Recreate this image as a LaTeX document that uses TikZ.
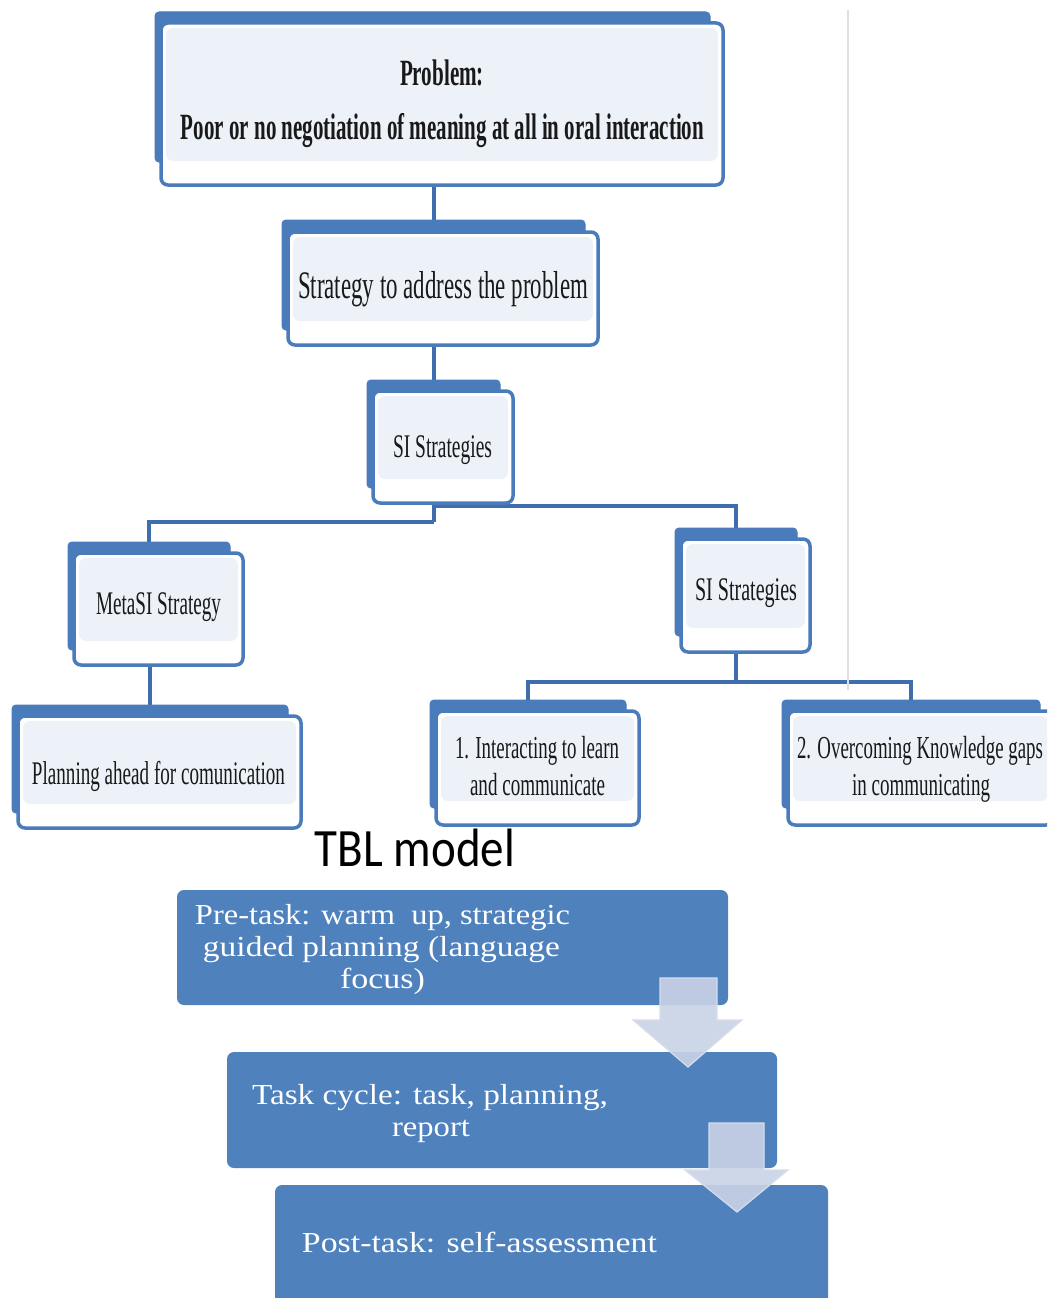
\documentclass[tikz,border=0pt]{standalone}
\usepackage{fontspec}
\usepackage{graphicx}
\setmainfont{Liberation Serif}
\newfontfamily\tblfont{Carlito}
\usetikzlibrary{backgrounds}
\definecolor{treeblue}{HTML}{4A7BBA}
\definecolor{connblue}{HTML}{3E6EAE}
\definecolor{lightfill}{HTML}{EDF1F8}
\definecolor{stepblue}{HTML}{4F81BD}
\definecolor{arrowfill}{HTML}{C9D3E6}
\definecolor{arrowedge}{HTML}{D6DDEC}
\newcommand\fitw[2]{\resizebox{#1pt}{\height}{#2}}
\tikzset{
  backbox/.style={fill=treeblue, draw=treeblue, line width=1pt, rounded corners=4pt, inner sep=0pt, outer sep=0pt, anchor=north west},
  frontbox/.style={fill=white, draw=treeblue, line width=3.5pt, rounded corners=7pt, inner sep=0pt, outer sep=0pt, anchor=north west,
    path picture={\fill[lightfill] ([xshift=5pt,yshift=-5pt]path picture bounding box.north west) rectangle ([xshift=-5pt,yshift=24pt]path picture bounding box.south east);}},
  conn/.style={draw=connblue, line width=4pt},
  txt/.style={inner sep=0pt, outer sep=0pt, anchor=base, text=black!90},
  stepbox/.style={fill=stepblue, rounded corners=7pt, inner sep=0pt, outer sep=0pt, anchor=north west},
  steptxt/.style={inner sep=0pt, outer sep=0pt, anchor=base, text=white, font=\fontsize{29}{32}\selectfont},
  flowarrow/.style={fill=arrowfill, fill opacity=0.9, draw=arrowedge, line width=1.2pt},
}
\begin{document}
\begin{tikzpicture}[x=1pt,y=-1pt]
\useasboundingbox (0,0) rectangle (1047,1298);
\clip (0,0) rectangle (1047,1298);

% thin page line
\draw[gray!25, line width=1.5pt] (848,10) -- (848,690);

% ---- tree boxes ----
\node[backbox, minimum width=555, minimum height=150] (probB) at (155,12) {};
\node[frontbox, minimum width=562, minimum height=162] (prob) at (161,23) {};
\node[backbox, minimum width=303, minimum height=110] (strB) at (282,220) {};
\node[frontbox, minimum width=310, minimum height=113] (str) at (288,232) {};
\node[backbox, minimum width=133, minimum height=108] (siB) at (367,380) {};
\node[frontbox, minimum width=140, minimum height=112] (si) at (373,391) {};
\node[backbox, minimum width=162, minimum height=108] (metaB) at (68,542) {};
\node[frontbox, minimum width=169, minimum height=112] (meta) at (74,553) {};
\node[backbox, minimum width=122, minimum height=108] (siRB) at (675,528) {};
\node[frontbox, minimum width=129, minimum height=113] (siR) at (681,539) {};
\node[backbox, minimum width=276, minimum height=108] (planB) at (12,705) {};
\node[frontbox, minimum width=283, minimum height=112] (plan) at (18,716) {};
\node[backbox, minimum width=196, minimum height=108] (intB) at (430,700) {};
\node[frontbox, minimum width=203, minimum height=114] (int) at (436,711) {};
\node[backbox, minimum width=258, minimum height=108] (ovB) at (782,700) {};
\node[frontbox, minimum width=265, minimum height=114] (ov) at (788,711) {};

% ---- tree texts ----
\node[txt, font=\fontsize{37}{40}\selectfont\bfseries] (probT1) at (442,85) {\fitw{84}{Problem:}};
\node[txt, font=\fontsize{37}{40}\selectfont\bfseries] (probT2) at (442.5,139) {\fitw{523}{Poor or no negotiation of meaning at all in oral interaction}};
\node[txt, font=\fontsize{39}{42}\selectfont] (strT) at (443,298) {\fitw{290}{Strategy to address the problem}};
\node[txt, font=\fontsize{33}{36}\selectfont] (siT) at (442.5,457) {\fitw{99}{SI Strategies}};
\node[txt, font=\fontsize{33}{36}\selectfont] (metaT) at (158.5,614) {\fitw{125}{MetaSI Strategy}};
\node[txt, font=\fontsize{33}{36}\selectfont] (siRT) at (746,600) {\fitw{102}{SI Strategies}};
\node[txt, font=\fontsize{33}{36}\selectfont] (planT) at (158.5,784) {\fitw{253}{Planning ahead for comunication}};
\node[txt, font=\fontsize{32}{35}\selectfont] (intT1) at (537,758) {\fitw{164}{1. Interacting to learn}};
\node[txt, font=\fontsize{32}{35}\selectfont] (intT2) at (537.5,795) {\fitw{135}{and communicate}};
\node[txt, font=\fontsize{32}{35}\selectfont] (ovT1) at (920,758) {\fitw{246}{2. Overcoming Knowledge gaps}};
\node[txt, font=\fontsize{32}{35}\selectfont] (ovT2) at (921,795) {\fitw{138}{in communicating}};

% ---- connectors ----
\coordinate (j1) at (433.5,522);
\coordinate (j1r) at (433.5,506);
\coordinate (j2) at (736,682);
\begin{scope}[on background layer]
\fill[white] (0,0) rectangle (1047,1298);
\draw[conn] (strB.north |- prob.south) -- (strB.north);
\draw[conn] (siB.north |- str.south) -- (siB.north);
\draw[conn] (si.south -| siB.south) -- (j1);
\draw[conn] (metaB.north) |- (j1);
\draw[conn] (siRB.north) |- (j1r);
\draw[conn] (planB.north |- meta.south) -- (planB.north);
\draw[conn] (siR.south -| siRB.south) -- (j2);
\draw[conn] (intB.north) |- (j2);
\draw[conn] (ovB.north) |- (j2);
\end{scope}

% ---- TBL model ----
\node[txt, text=black, font=\tblfont\fontsize{54}{58}\selectfont] (tbl) at (415,866) {\fitw{200}{TBL model}};

% ---- steps ----
\node[stepbox, minimum width=551, minimum height=115] (pre) at (177,890) {};
\node[stepbox, minimum width=550, minimum height=116] (cyc) at (227,1052) {};
\node[stepbox, minimum width=553, minimum height=125] (post) at (275,1185) {};

\node[steptxt] (preT1) at (382.5,924) {\fitw{375}{Pre-task: warm~ up, strategic}};
\node[steptxt] (preT2) at (381.5,956) {\fitw{357}{guided planning (language}};
\node[steptxt] (preT3) at (382.5,988) {\fitw{85}{focus)}};
\node[steptxt] (cycT1) at (430,1104) {\fitw{356}{Task cycle: task, planning,}};
\node[steptxt] (cycT2) at (431,1136) {\fitw{78}{report}};
\node[steptxt] (postT) at (479.5,1252) {\fitw{355}{Post-task: self-assessment}};

% ---- down arrows ----
\fill[flowarrow] (660,978) -- (717,978) -- (717,1020) -- (742,1020) -- (688,1067) -- (633,1020) -- (660,1020) -- cycle;
\fill[flowarrow] (709,1123) -- (764,1123) -- (764,1170) -- (788,1170) -- (737,1212) -- (685,1170) -- (709,1170) -- cycle;
\end{tikzpicture}
\end{document}
